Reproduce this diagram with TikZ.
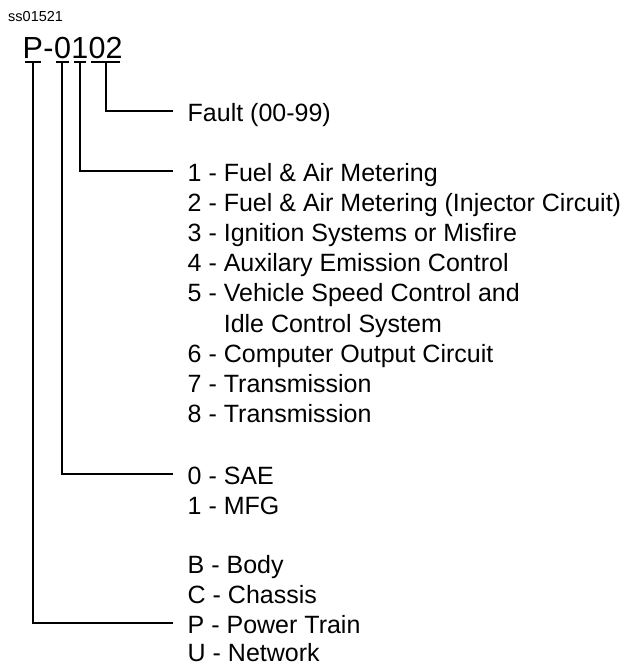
\documentclass[tikz,border=0pt]{standalone}
\usepackage{fontspec}
\setmainfont{Liberation Sans}
\begin{document}
\begin{tikzpicture}[x=1pt,y=-1pt,
  big/.style={anchor=base west,inner sep=0pt,font=\fontsize{30.5}{36}\selectfont},
  item/.style={anchor=base west,inner sep=0pt,font=\fontsize{25}{30}\selectfont},
  tag/.style={anchor=base west,inner sep=0pt,font=\fontsize{14.5}{17}\selectfont},
  conn/.style={line width=2pt,line cap=rect},
  uline/.style={line width=2pt}]
\useasboundingbox (0,0) rectangle (626,665);
\node[tag] (id) at (8,21) {ss01521};
% code characters
\node[big] (cP) at (22.5,58.5) {P};
\node[big] (cD) at (cP.base east) {-};
\node[big] (c0) at (cD.base east) {0};
\node[big] (c1) at (c0.base east) {1};
\node[big] (c2) at (c1.base east) {02};
% underlines
\foreach \c in {cP,c0,c1,c2}
  \draw[uline] ([xshift=2.5pt,yshift=-3.2pt]\c.south west) -- ([xshift=-2.5pt,yshift=-3.2pt]\c.south east);
% lists
\node[item] (tF) at (187.5,121.3) {Fault (00-99)};
\node[item] (t1) at (187.5,181) {1 - Fuel \& Air Metering};
\node[item] (t2) at (187.5,211.2) {2 - Fuel \& Air Metering (Injector Circuit)};
\node[item] (t3) at (187.5,241.4) {3 - Ignition Systems or Misfire};
\node[item] (t4) at (187.5,271.6) {4 - Auxilary Emission Control};
\node[item] (t5) at (187.5,301.8) {5 - Vehicle Speed Control and};
\node[item] (t5b) at (187.5,332) {\phantom{5 - }Idle Control System};
\node[item] (t6) at (187.5,362.2) {6 - Computer Output Circuit};
\node[item] (t7) at (187.5,392.4) {7 - Transmission};
\node[item] (t8) at (187.5,422.6) {8 - Transmission};
\node[item] (tS) at (187.5,484) {0 - SAE};
\node[item] (tM) at (187.5,514) {1 - MFG};
\node[item] (tB) at (187.5,573.3) {B - Body};
\node[item] (tC) at (187.5,603.2) {C - Chassis};
\node[item] (tP) at (187.5,633.3) {P - Power Train};
\node[item] (tU) at (187.5,661.8) {U - Network};
% connectors
\draw[conn] ([yshift=-3.2pt]c2.south) |- ([xshift=-15.2pt,yshift=10.3pt]tF.base west);
\draw[conn] ([yshift=-3.2pt]c1.south) |- ([xshift=-15.2pt,yshift=10.3pt]t1.base west);
\draw[conn] ([yshift=-3.2pt]c0.south) |- ([xshift=-15.2pt,yshift=10.3pt]tS.base west);
\draw[conn] ([yshift=-3.2pt]cP.south) |- ([xshift=-15.2pt,yshift=10.3pt]tP.base west);
\end{tikzpicture}
\end{document}
